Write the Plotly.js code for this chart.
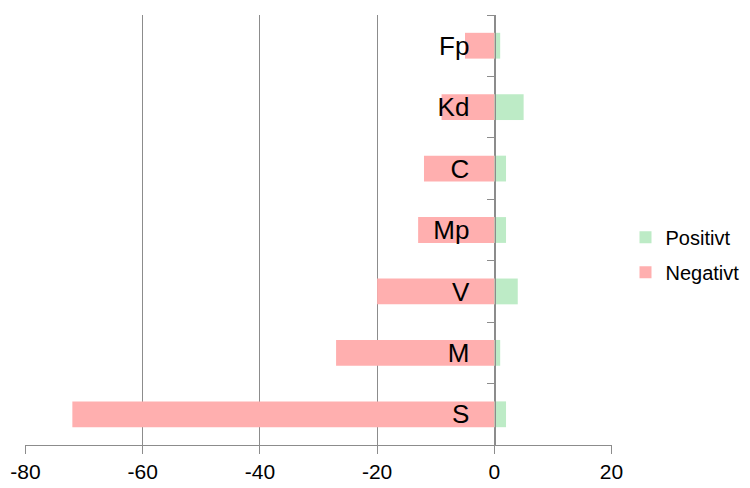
<!DOCTYPE html>
<html>
<head>
<meta charset="utf-8">
<script src="https://cdn.plot.ly/plotly-3.0.1.min.js"></script>
<style>html,body{margin:0;padding:0;background:#fff;}#chart{width:750px;height:488px;}</style>
</head>
<body>
<div id="chart"></div>
<script>
const categories = ["S", "M", "V", "Mp", "C", "Kd", "Fp"];
const positivt = [2, 1, 4, 2, 2, 5, 1];
const negativt = [-72, -27, -20, -13, -12, -9, -5];
const xTicks = [-80, -60, -40, -20, 0, 20];

const traces = [
  {type: 'bar', orientation: 'h', name: 'Positivt', y: categories, x: positivt,
   legendgroup: 'p', width: 0.42, marker: {color: '#BDEBC6'}},
  {type: 'bar', orientation: 'h', name: 'Negativt', y: categories, x: negativt,
   legendgroup: 'n', width: 0.42, marker: {color: '#FFAFAF'}}
];

const layout = {
  width: 750, height: 488,
  margin: {l: 25, r: 138, t: 15, b: 43},
  paper_bgcolor: '#fff', plot_bgcolor: '#fff',
  barmode: 'relative',
  font: {family: 'Liberation Sans, Arial, sans-serif', color: '#000'},
  showlegend: true,
  legend: {xref: 'container', yref: 'container', x: 0.834, y: 0.478,
           yanchor: 'middle', xanchor: 'left', font: {size: 20},
           traceorder: 'grouped', itemwidth: 30, tracegroupgap: 6},
  xaxis: {range: [-80.08, 20.08], tickvals: xTicks, ticktext: xTicks.map(String),
          showgrid: true, gridcolor: '#8c8c8c', gridwidth: 1,
          zeroline: false, showline: true, linecolor: '#8c8c8c',
          ticks: 'outside', ticklen: 8, tickcolor: '#8c8c8c',
          tickfont: {size: 21}, fixedrange: true},
  yaxis: {type: 'category', categoryorder: 'array', categoryarray: categories,
          anchor: 'free', position: 0.8, showline: true, linecolor: '#8c8c8c',
          showgrid: false, zeroline: false,
          ticks: 'outside', ticklen: 8, tickcolor: '#8c8c8c', tickson: 'boundaries',
          ticklabelstandoff: 20,
          tickfont: {size: 26}, fixedrange: true}
};

Plotly.newPlot('chart', traces, layout, {displayModeBar: false, staticPlot: true});
</script>
</body>
</html>
